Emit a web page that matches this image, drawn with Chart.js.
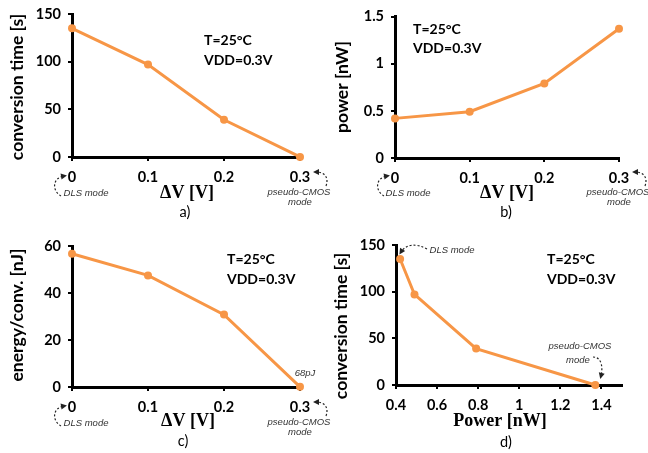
<!DOCTYPE html>
<html>
<head>
<meta charset="utf-8">
<script src="https://cdn.jsdelivr.net/npm/chart.js@4.4.1/dist/chart.umd.min.js"></script>
<style>
    html, body { margin: 0; padding: 0; background: #fff; }
    #wrap { position: relative; width: 648px; height: 453px; }
    #wrap canvas { position: absolute; left: 0; top: 0; pointer-events: none; }
</style>
</head>
<body>
<div id="wrap">
    <canvas id="chA" width="648" height="453"></canvas>
    <canvas id="chB" width="648" height="453"></canvas>
    <canvas id="chC" width="648" height="453"></canvas>
    <canvas id="chD" width="648" height="453"></canvas>
</div>
<script>
// values
const deltaV = [0, 0.1, 0.2, 0.3];              // ΔV [V]
const convTime = [135, 97, 39, 0.05];           // conversion time [s]
const powerNW = [0.42, 0.49, 0.79, 1.37];       // power [nW]
const energyNJ = [56.7, 47.5, 30.8, 0.068];     // energy/conv. [nJ]

const ORANGE = '#F79646';
const TICK_FONT = { family: 'Lato', size: 14.5, weight: 'bold' };
const Y_TITLE = 'bold 17.5px Lato';
const X_TITLE = 'bold 18px "Liberation Serif"';
const NOTE = 'bold 14px Lato';
const MODE = 'italic 9.5px "Liberation Sans"';
const CAP = '14.5px Lato';

const fmt = v => String(Math.round(v * 100) / 100);

// free text + dashed arrows drawn on top of each panel
const notesPlugin = {
    id: 'notes',
    afterDraw(chart, args, opts) {
        const ctx = chart.ctx;
        (opts.items || []).forEach(it => {
            ctx.save();
            if (it.text !== undefined) {
                ctx.font = it.font;
                ctx.fillStyle = it.color || '#000';
                ctx.textAlign = it.align || 'center';
                ctx.textBaseline = 'middle';
                ctx.translate(it.x, it.y);
                if (it.rotate) ctx.rotate(it.rotate);
                ctx.fillText(it.text, 0, 0);
            } else if (it.curve) {
                const [p0, c1, c2, p1] = it.curve;
                ctx.strokeStyle = '#222';
                ctx.lineWidth = 1.2;
                ctx.setLineDash([2, 2]);
                ctx.beginPath();
                ctx.moveTo(p0[0], p0[1]);
                ctx.bezierCurveTo(c1[0], c1[1], c2[0], c2[1], p1[0], p1[1]);
                ctx.stroke();
                const ang = Math.atan2(p1[1] - c2[1], p1[0] - c2[0]);
                ctx.setLineDash([]);
                ctx.fillStyle = '#222';
                ctx.translate(p1[0], p1[1]);
                ctx.rotate(ang);
                ctx.beginPath();
                ctx.moveTo(3, 0);
                ctx.lineTo(-3, -3);
                ctx.lineTo(-3, 3);
                ctx.closePath();
                ctx.fill();
            }
            ctx.restore();
        });
    }
};

function axisOpts(min, max, step, fixSize, isX) {
    return {
        type: 'linear',
        min, max,
        border: { color: '#000', width: 3 },
        grid: { drawOnChartArea: false, drawTicks: true, tickLength: 4, color: '#000', lineWidth: 2 },
        ticks: {
            stepSize: step, includeBounds: false, color: '#000', font: TICK_FONT,
            padding: isX ? 8 : 7, maxRotation: 0, autoSkip: false, callback: fmt
        },
        afterFit(s) {
            if (isX) { s.height = fixSize; s.paddingLeft = 0; s.paddingRight = 0; }
            else { s.width = fixSize; s.paddingTop = 0; s.paddingBottom = 0; }
        }
    };
}

// box = where the plot area sits on the page
function makePanel(id, box, xs, ys, xAxis, yAxis, items) {
    const W = 648, H = 453, yw = 40, xh = 30;
    return new Chart(document.getElementById(id), {
        type: 'line',
        data: {
            datasets: [{
                data: xs.map((x, i) => ({ x, y: ys[i] })),
                borderColor: ORANGE,
                backgroundColor: ORANGE,
                borderWidth: 3,
                pointRadius: 4,
                pointBorderWidth: 0,
                tension: 0,
                clip: false
            }]
        },
        options: {
            responsive: false,
            animation: false,
            events: [],
            layout: { padding: { left: box.l - yw, top: box.t, right: W - box.r, bottom: H - box.b - xh } },
            scales: {
                x: axisOpts(xAxis[0], xAxis[1], xAxis[2], xh, true),
                y: axisOpts(yAxis[0], yAxis[1], yAxis[2], yw, false)
            },
            plugins: { legend: { display: false }, tooltip: { enabled: false }, notes: { items } }
        },
        plugins: [notesPlugin]
    });
}

const UP = -Math.PI / 2;

function build() {
    makePanel('chA', { l: 72, r: 300, t: 14, b: 157 }, deltaV, convTime, [0, 0.3, 0.1], [0, 150, 50], [
        { text: 'conversion time [s]', x: 17, y: 87, font: Y_TITLE, rotate: UP },
        { text: 'ΔV [V]', x: 187, y: 193, font: X_TITLE },
        { text: 'T=25°C', x: 204, y: 40, font: NOTE, align: 'left' },
        { text: 'VDD=0.3V', x: 204, y: 60, font: NOTE, align: 'left' },
        { text: 'DLS mode', x: 86, y: 193, font: MODE, color: '#333' },
        { curve: [[61, 196], [52, 191], [52, 178], [64, 176]] },
        { text: 'pseudo-CMOS', x: 299, y: 192, font: MODE, color: '#333' },
        { text: 'mode', x: 300, y: 202, font: MODE, color: '#333' },
        { curve: [[326, 186], [329, 178], [325, 172], [316, 172]] },
        { text: 'a)', x: 185, y: 212, font: CAP }
    ]);

    makePanel('chB', { l: 395, r: 619, t: 16.5, b: 158 }, deltaV, powerNW, [0, 0.3, 0.1], [0, 1.5, 0.5], [
        { text: 'power [nW]', x: 342, y: 87, font: Y_TITLE, rotate: UP },
        { text: 'ΔV [V]', x: 507, y: 193, font: X_TITLE },
        { text: 'T=25°C', x: 413, y: 29, font: NOTE, align: 'left' },
        { text: 'VDD=0.3V', x: 413, y: 48, font: NOTE, align: 'left' },
        { text: 'DLS mode', x: 408, y: 193, font: MODE, color: '#333' },
        { curve: [[384, 196], [375, 191], [375, 178], [387, 176]] },
        { text: 'pseudo-CMOS', x: 618, y: 192, font: MODE, color: '#333' },
        { text: 'mode', x: 619, y: 202, font: MODE, color: '#333' },
        { curve: [[645, 186], [648, 178], [644, 172], [635, 172]] },
        { text: 'b)', x: 506, y: 212, font: CAP }
    ]);

    makePanel('chC', { l: 72, r: 300, t: 246, b: 387 }, deltaV, energyNJ, [0, 0.3, 0.1], [0, 60, 20], [
        { text: 'energy/conv. [nJ]', x: 17, y: 315, font: Y_TITLE, rotate: UP },
        { text: 'ΔV [V]', x: 188, y: 421, font: X_TITLE },
        { text: 'T=25°C', x: 227, y: 259, font: NOTE, align: 'left' },
        { text: 'VDD=0.3V', x: 227, y: 279, font: NOTE, align: 'left' },
        { text: '68pJ', x: 305, y: 373, font: MODE, color: '#333' },
        { text: 'DLS mode', x: 86, y: 423, font: MODE, color: '#333' },
        { curve: [[61, 426], [52, 421], [52, 408], [64, 406]] },
        { text: 'pseudo-CMOS', x: 299, y: 422, font: MODE, color: '#333' },
        { text: 'mode', x: 300, y: 432, font: MODE, color: '#333' },
        { curve: [[326, 416], [329, 408], [325, 402], [316, 402]] },
        { text: 'c)', x: 183, y: 441, font: CAP }
    ]);

    makePanel('chD', { l: 396, r: 622, t: 245, b: 385 }, powerNW, convTime, [0.4, 1.5, 0.2], [0, 150, 50], [
        { text: 'conversion time [s]', x: 341, y: 326, font: Y_TITLE, rotate: UP },
        { text: 'Power [nW]', x: 500, y: 421, font: X_TITLE },
        { text: 'T=25°C', x: 547, y: 259, font: NOTE, align: 'left' },
        { text: 'VDD=0.3V', x: 547, y: 279, font: NOTE, align: 'left' },
        { text: 'DLS mode', x: 452, y: 250, font: MODE, color: '#333' },
        { curve: [[427, 249], [416, 243], [406, 244], [401, 252]] },
        { text: 'pseudo-CMOS', x: 580, y: 346, font: MODE, color: '#333' },
        { text: 'mode', x: 578, y: 360, font: MODE, color: '#333' },
        { curve: [[593, 357], [602, 357], [603, 368], [601, 376]] },
        { text: 'd)', x: 506, y: 442, font: CAP }
    ]);
}

Promise.all([
    document.fonts.load('bold 14px Lato'),
    document.fonts.load('14px Lato'),
    document.fonts.load('bold 18px "Liberation Serif"'),
    document.fonts.load('italic 10px "Liberation Sans"')
]).then(build, build);
</script>
</body>
</html>
